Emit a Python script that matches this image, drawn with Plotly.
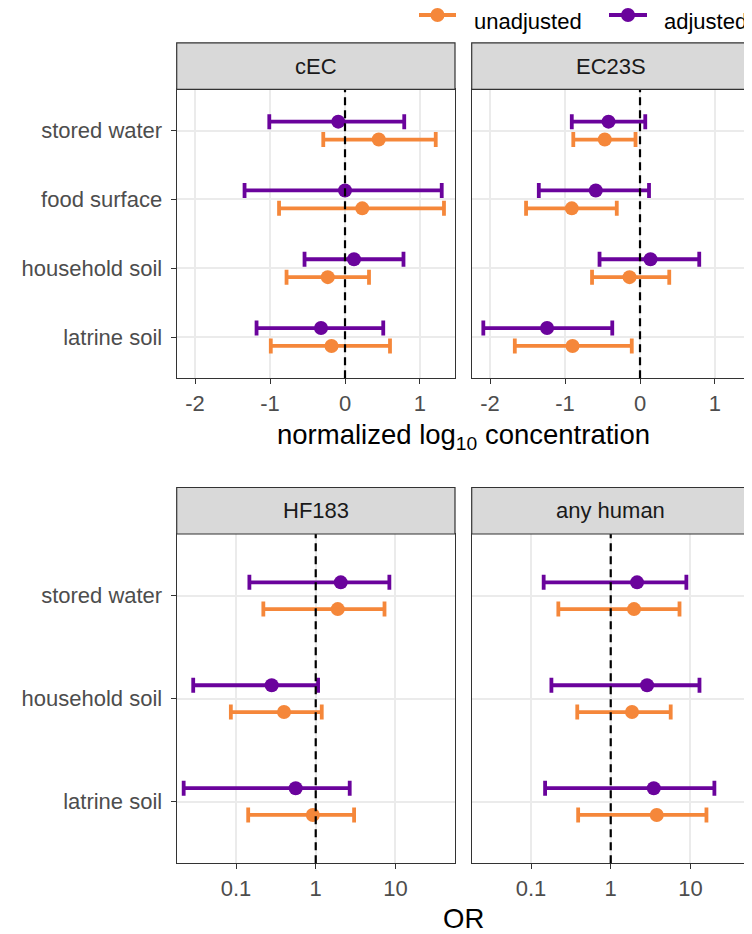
import plotly.graph_objects as go

# ---------------- data ----------------
categories_conc = ["stored water", "food surface", "household soil", "latrine soil"]
categories_or = ["stored water", "household soil", "latrine soil"]
series_names = ["unadjusted", "adjusted"]

cEC_unadj_est = [0.45, 0.23, -0.23, -0.18]
cEC_unadj_lo = [-0.29, -0.88, -0.78, -0.99]
cEC_unadj_hi = [1.21, 1.32, 0.32, 0.60]
cEC_adj_est = [-0.09, 0.00, 0.12, -0.32]
cEC_adj_lo = [-1.01, -1.34, -0.54, -1.18]
cEC_adj_hi = [0.79, 1.29, 0.78, 0.51]

EC23S_unadj_est = [-0.47, -0.91, -0.14, -0.90]
EC23S_unadj_lo = [-0.89, -1.52, -0.64, -1.67]
EC23S_unadj_hi = [-0.06, -0.31, 0.39, -0.11]
EC23S_adj_est = [-0.42, -0.59, 0.14, -1.24]
EC23S_adj_lo = [-0.91, -1.35, -0.54, -2.09]
EC23S_adj_hi = [0.07, 0.12, 0.79, -0.37]

HF183_unadj_est = [1.89, 0.40, 0.92]
HF183_unadj_lo = [0.22, 0.086, 0.142]
HF183_unadj_hi = [7.3, 1.19, 3.03]
HF183_adj_est = [2.06, 0.28, 0.56]
HF183_adj_lo = [0.147, 0.029, 0.022]
HF183_adj_hi = [8.4, 1.07, 2.67]

human_unadj_est = [1.96, 1.85, 3.78]
human_unadj_lo = [0.22, 0.38, 0.39]
human_unadj_hi = [7.3, 5.66, 15.9]
human_adj_est = [2.14, 2.86, 3.47]
human_adj_lo = [0.144, 0.18, 0.15]
human_adj_hi = [8.9, 13.0, 20.0]

conc_ticks = [-2, -1, 0, 1]
conc_tick_labels = ["-2", "-1", "0", "1"]
or_ticks = [0.1, 1, 10]
or_tick_labels = ["0.1", "1", "10"]

# ---------------- style ----------------
PAGE_W, PAGE_H = 752, 934
OFF = 8  # browser default body margin
W, H = PAGE_W - OFF, PAGE_H - OFF
ORANGE = "#F5873A"
PURPLE = "#6A039C"
FONT = "Liberation Sans, Arial, Helvetica, sans-serif"
DODGE = 0.13


def px(x):
    return (x - OFF) / W


def py(y):
    return 1 - (y - OFF) / H


fig = go.Figure()


def add_series(est, lo, hi, cats, color, name, offset, xa, ya):
    n = len(cats)
    ys = [n - i + offset for i in range(n)]
    fig.add_trace(go.Scatter(
        x=est, y=ys, mode="markers", name=name, showlegend=False,
        marker=dict(color=color, size=14),
        error_x=dict(type="data", symmetric=False,
                     array=[h - e for h, e in zip(hi, est)],
                     arrayminus=[e - l for e, l in zip(est, lo)],
                     color=color, thickness=3.8, width=7.5),
        xaxis=xa, yaxis=ya, cliponaxis=False,
    ))


panels = [
    ("x", "y", categories_conc, (cEC_unadj_est, cEC_unadj_lo, cEC_unadj_hi), (cEC_adj_est, cEC_adj_lo, cEC_adj_hi)),
    ("x2", "y2", categories_conc, (EC23S_unadj_est, EC23S_unadj_lo, EC23S_unadj_hi), (EC23S_adj_est, EC23S_adj_lo, EC23S_adj_hi)),
    ("x3", "y3", categories_or, (HF183_unadj_est, HF183_unadj_lo, HF183_unadj_hi), (HF183_adj_est, HF183_adj_lo, HF183_adj_hi)),
    ("x4", "y4", categories_or, (human_unadj_est, human_unadj_lo, human_unadj_hi), (human_adj_est, human_adj_lo, human_adj_hi)),
]
for xa, ya, cats, un, ad in panels:
    add_series(*un, cats, ORANGE, "unadjusted", -DODGE, xa, ya)
    add_series(*ad, cats, PURPLE, "adjusted", +DODGE, xa, ya)

# panel geometry (page pixels)
LX = (176.7, 455.0)
RX = (471.7, 750.0)
TOPY = (89.3, 378.3)
BOTY = (534.0, 863.3)
STRIP_H = 46.5

grid = "#EBEBEB"
border = "#333333"

common_x = dict(showgrid=True, gridcolor=grid, gridwidth=1.6, zeroline=False,
                showline=True, mirror=True, linecolor=border, linewidth=1.2,
                ticks="outside", ticklen=5, tickwidth=1.2, tickcolor=border,
                tickfont=dict(size=22, color="#4D4D4D", family=FONT))
common_y = dict(showgrid=True, gridcolor=grid, gridwidth=1.6, zeroline=False,
                showline=True, mirror=True, linecolor=border, linewidth=1.2,
                tickfont=dict(size=22, color="#4D4D4D", family=FONT))

n1 = len(categories_conc)
n2 = len(categories_or)
conc_tickvals = [n1 - i for i in range(n1)]
or_tickvals = [n2 - i for i in range(n2)]

fig.update_layout(
    xaxis=dict(domain=[px(LX[0]), px(LX[1])], range=[-2.245, 1.467], anchor="y",
               tickvals=conc_ticks, ticktext=conc_tick_labels, **common_x),
    yaxis=dict(domain=[py(TOPY[1]), py(TOPY[0])], range=[0.4, n1 + 0.6], anchor="x",
               tickvals=conc_tickvals, ticktext=categories_conc, ticks="outside",
               ticklen=5, tickwidth=1.2, tickcolor=border, ticklabelstandoff=4, **common_y),
    xaxis2=dict(domain=[px(RX[0]), px(RX[1])], range=[-2.245, 1.467], anchor="y2",
                tickvals=conc_ticks, ticktext=conc_tick_labels, **common_x),
    yaxis2=dict(domain=[py(TOPY[1]), py(TOPY[0])], range=[0.4, n1 + 0.6], anchor="x2",
                tickvals=conc_tickvals, showticklabels=False, ticks="", **common_y),
    xaxis3=dict(domain=[px(LX[0]), px(LX[1])], type="log", range=[-1.745, 1.748], anchor="y3",
                tickvals=or_ticks, ticktext=or_tick_labels, **common_x),
    yaxis3=dict(domain=[py(BOTY[1]), py(BOTY[0])], range=[0.4, n2 + 0.6], anchor="x3",
                tickvals=or_tickvals, ticktext=categories_or, ticks="outside",
                ticklen=5, tickwidth=1.2, tickcolor=border, ticklabelstandoff=4, **common_y),
    xaxis4=dict(domain=[px(RX[0]), px(RX[1])], type="log", range=[-1.745, 1.748], anchor="y4",
                tickvals=or_ticks, ticktext=or_tick_labels, **common_x),
    yaxis4=dict(domain=[py(BOTY[1]), py(BOTY[0])], range=[0.4, n2 + 0.6], anchor="x4",
                tickvals=or_tickvals, showticklabels=False, ticks="", **common_y),
)

shapes = []
annotations = []

# reference lines
for xa, val in [("x", 0), ("x2", 0), ("x3", 1), ("x4", 1)]:
    shapes.append(dict(type="line", xref=xa, yref=f"{xa.replace('x', 'y')} domain",
                       x0=val, x1=val, y0=0, y1=1,
                       line=dict(color="black", width=2.2, dash="8px,5px"), layer="above"))

# strips
strips = [("cEC", LX, TOPY), ("EC23S", RX, TOPY), ("HF183", LX, BOTY), ("any human", RX, BOTY)]
for label, (x0, x1), (y0, _) in strips:
    shapes.append(dict(type="rect", xref="paper", yref="paper",
                       x0=px(x0), x1=px(x1), y0=py(y0), y1=py(y0 - STRIP_H),
                       fillcolor="#D9D9D9", line=dict(color=border, width=1.2)))
    annotations.append(dict(text=label, xref="paper", yref="paper",
                            x=px((x0 + x1) / 2), y=py(y0 - STRIP_H / 2),
                            showarrow=False, xanchor="center", yanchor="middle",
                            font=dict(size=22, color="#1A1A1A", family=FONT)))

# axis titles
annotations.append(dict(text="normalized log<sub>10</sub> concentration", xref="paper", yref="paper",
                        x=px(463), y=py(436), showarrow=False, xanchor="center", yanchor="middle",
                        font=dict(size=27.5, color="black", family=FONT)))
annotations.append(dict(text="OR", xref="paper", yref="paper",
                        x=px(463), y=py(918), showarrow=False, xanchor="center", yanchor="middle",
                        font=dict(size=27.5, color="black", family=FONT)))

# legend (drawn manually)
LEG_Y = 15
for name, color, kx0, kx1, tx in [("unadjusted", ORANGE, 419, 456, 473),
                                  ("adjusted", PURPLE, 609, 647, 663)]:
    shapes.append(dict(type="line", xref="paper", yref="paper",
                       x0=px(kx0), x1=px(kx1), y0=py(LEG_Y), y1=py(LEG_Y),
                       line=dict(color=color, width=3.8)))
    cx = (kx0 + kx1) / 2
    shapes.append(dict(type="circle", xref="paper", yref="paper",
                       x0=px(cx - 7), x1=px(cx + 7), y0=py(LEG_Y + 7), y1=py(LEG_Y - 7),
                       fillcolor=color, line=dict(width=0)))
    annotations.append(dict(text=name, xref="paper", yref="paper",
                            x=px(tx), y=1, showarrow=False, xanchor="left", yanchor="top",
                            borderpad=0,
                            font=dict(size=22, color="black", family=FONT)))

fig.update_layout(
    width=W, height=H,
    margin=dict(l=0, r=0, t=0, b=0),
    paper_bgcolor="white", plot_bgcolor="white",
    showlegend=False,
    shapes=shapes, annotations=annotations,
    font=dict(family=FONT),
)

fig.write_html("out.html")
